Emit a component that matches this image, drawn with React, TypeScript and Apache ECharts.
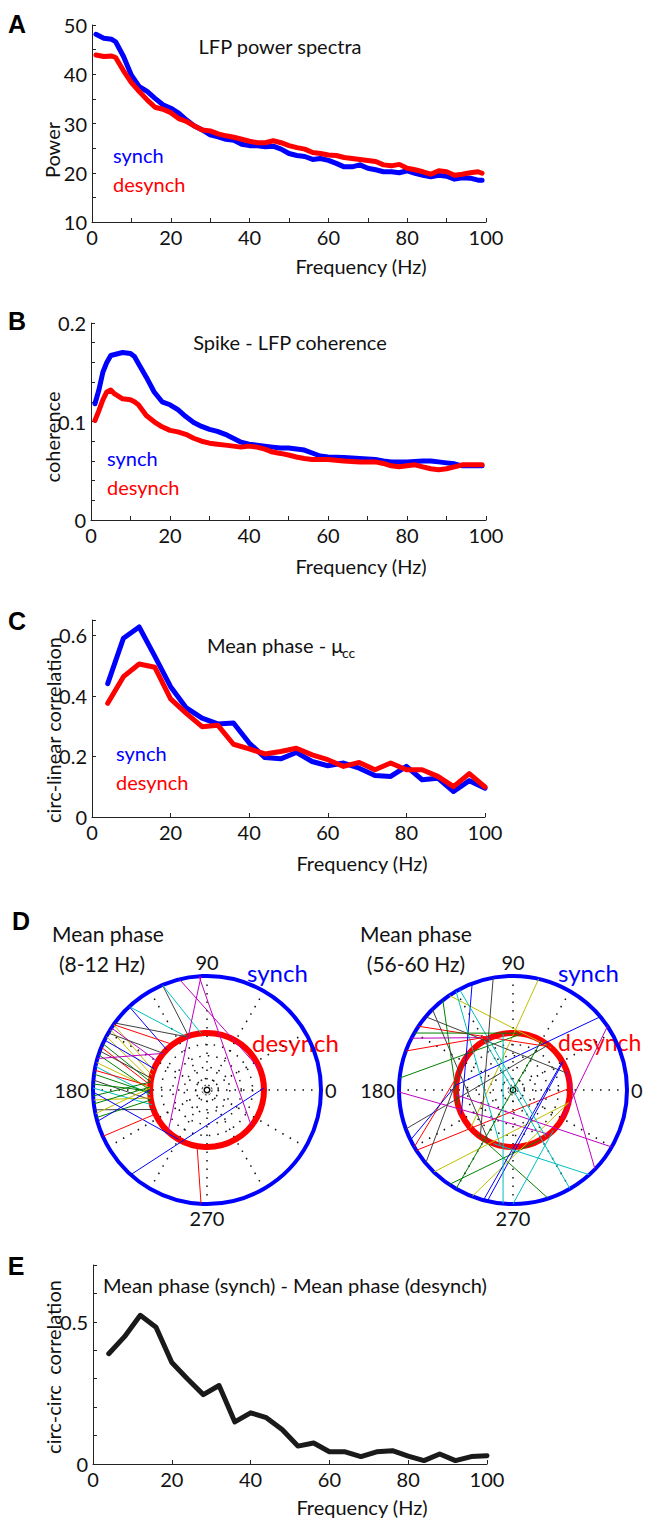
import React, { useEffect, useRef } from 'react';
import * as echarts from 'echarts';

const FONT = 'Lato, "Open Sans", sans-serif';
const LETTER_FONT = '"Liberation Sans", Arial, sans-serif';

// ---- Panel A: LFP power spectra ----
const freqA = [1, 3, 5, 6, 8, 10, 12, 14, 16, 18, 20, 22, 24, 26, 28, 30, 32, 34, 36, 38, 40, 42, 44, 46, 48, 50, 52, 54, 56, 58, 60, 62, 64, 66, 68, 70, 72, 74, 76, 78, 80, 82, 84, 86, 88, 90, 92, 94, 96, 98, 99];
const powerSynch = [48.1, 47.3, 47.1, 46.6, 43.6, 39.8, 37.5, 36.5, 35.1, 33.8, 33.1, 32.1, 30.7, 29.5, 28.7, 27.7, 27.3, 26.8, 26.6, 25.8, 25.5, 25.5, 25.3, 25.4, 24.8, 23.9, 23.5, 23.3, 22.7, 22.9, 22.5, 21.9, 21.2, 21.2, 21.6, 20.9, 20.6, 20.2, 20.2, 20.0, 20.4, 19.9, 19.5, 19.2, 19.5, 19.3, 18.7, 19.0, 18.9, 18.5, 18.5];
const powerDesynch = [43.9, 43.6, 43.7, 43.4, 40.7, 38.3, 36.5, 34.8, 33.3, 32.9, 32.2, 31.0, 30.4, 29.5, 28.7, 28.5, 27.9, 27.5, 27.2, 26.8, 26.4, 26.1, 26.1, 26.5, 26.1, 25.5, 25.1, 24.8, 24.1, 23.9, 23.6, 23.5, 23.1, 22.9, 22.7, 22.5, 22.3, 21.6, 21.4, 21.7, 20.9, 20.6, 20.2, 19.7, 20.4, 20.2, 19.5, 19.7, 20.0, 20.2, 19.9];

// ---- Panel B: spike-LFP coherence ----
const freqB = [1, 2, 3, 4, 5, 6, 8, 10, 11, 12, 14, 16, 18, 20, 22, 24, 26, 28, 30, 32, 34, 36, 38, 40, 42, 44, 46, 48, 50, 52, 54, 56, 58, 60, 64, 68, 72, 74, 76, 78, 80, 82, 84, 86, 88, 90, 92, 94, 96, 99];
const cohSynch = [0.118, 0.132, 0.150, 0.160, 0.167, 0.168, 0.170, 0.169, 0.166, 0.159, 0.145, 0.130, 0.120, 0.117, 0.112, 0.105, 0.099, 0.095, 0.092, 0.090, 0.087, 0.083, 0.079, 0.077, 0.076, 0.075, 0.074, 0.073, 0.073, 0.072, 0.071, 0.068, 0.065, 0.064, 0.0635, 0.0625, 0.0615, 0.060, 0.059, 0.059, 0.059, 0.0595, 0.060, 0.060, 0.059, 0.058, 0.057, 0.055, 0.055, 0.055];
const cohDesynch = [0.101, 0.111, 0.122, 0.130, 0.132, 0.128, 0.123, 0.122, 0.120, 0.117, 0.106, 0.0997, 0.0946, 0.091, 0.0895, 0.087, 0.083, 0.080, 0.078, 0.077, 0.076, 0.075, 0.074, 0.075, 0.074, 0.072, 0.069, 0.0676, 0.066, 0.064, 0.0625, 0.0615, 0.0615, 0.0615, 0.060, 0.059, 0.059, 0.0574, 0.055, 0.054, 0.055, 0.056, 0.054, 0.052, 0.051, 0.052, 0.054, 0.056, 0.056, 0.056];

// ---- Panels C and E: 4 Hz bands ----
const freqBands = [4, 8, 12, 16, 20, 24, 28, 32, 36, 40, 44, 48, 52, 56, 60, 64, 68, 72, 76, 80, 84, 88, 92, 96, 100];
const circLinSynch = [0.44, 0.59, 0.627, 0.53, 0.43, 0.36, 0.326, 0.307, 0.31, 0.244, 0.196, 0.192, 0.213, 0.183, 0.169, 0.178, 0.161, 0.137, 0.134, 0.167, 0.123, 0.128, 0.084, 0.12, 0.095];
const circLinDesynch = [0.375, 0.463, 0.505, 0.494, 0.39, 0.342, 0.298, 0.303, 0.24, 0.225, 0.208, 0.216, 0.227, 0.205, 0.189, 0.167, 0.18, 0.156, 0.178, 0.156, 0.156, 0.134, 0.1, 0.143, 0.099];
const circCirc = [0.388, 0.448, 0.523, 0.481, 0.357, 0.299, 0.244, 0.276, 0.148, 0.18, 0.163, 0.121, 0.063, 0.074, 0.043, 0.043, 0.026, 0.043, 0.047, 0.028, 0.012, 0.035, 0.012, 0.026, 0.029];

// ---- Panel D: per-cell mean phase, [synch (outer ring), desynch (inner ring)] in degrees ----
const phasesAlpha: [number, number][] = [
  [113, 109], [113, 96], [133, 111], [133, 135], [144, 111], [145, 127], [145, 160], [147, 150],
  [148, 165], [150, 140], [152, 170], [154, 158], [156, 172], [158, 175], [160, 168], [162, 180],
  [164, 140], [166, 178], [168, 185], [170, 176], [172, 183], [175, 190], [177, 181], [179, 195],
  [183, 172], [185, 188], [187, 177], [190, 200], [192, 178], [194, 190], [196, 180], [181, 240],
  [204, 205], [228, 2], [267, 260], [104, 21], [94, 321], [93, 227],
];
const colorsAlpha = 'kccbkrymykybgrkgmycrgkgcgygkygbbrbrmmm';

const phasesGamma: [number, number][] = [
  [77, 222], [124, 48], [40, 175], [174, 81], [146, 49], [153, 113], [140, 17], [128, 195],
  [111, 205], [120, 257], [200, 52], [210, 133], [206, 175], [212, 2], [181, 309], [257, 29],
  [288, 231], [226, 347], [236, 298], [249, 347], [330, 185], [34, 330], [316, 20], [255, 30],
  [118, 305], [312, 250], [135, 245], [160, 95], [265, 100], [240, 60], [300, 120], [220, 150],
  [270, 315], [100, 235], [150, 85],
];
const colorsGamma = 'yybgrmkgbckrbrmbgygymmmbcckrcgckckg';

const MATLAB_COLORS: Record<string, string> = {
  b: '#0000ff', g: '#008000', r: '#ff0000', c: '#00bfbf', m: '#bf00bf', y: '#bfbf00', k: '#404040',
};

const BLUE = '#0000ff';
const RED = '#ff0000';
const AXIS = '#222';
const tickLabel = { fontFamily: FONT, fontSize: 20, color: '#111' };

function freqAxis(gridIndex: number, minor: boolean) {
  return {
    type: 'value', gridIndex, min: 0, max: 100, interval: 20,
    axisLine: { show: true, onZero: false, lineStyle: { color: AXIS, width: 1 } },
    axisTick: { show: true, inside: true, length: 4, lineStyle: { color: AXIS } },
    minorTick: { show: minor, splitNumber: 2, length: 4, lineStyle: { color: AXIS } },
    axisLabel: { ...tickLabel, margin: 5 },
    splitLine: { show: false },
  };
}

function valueAxis(gridIndex: number, min: number, max: number, interval: number, minorSplit: number, formatter?: (v: number) => string) {
  return {
    type: 'value', gridIndex, min, max, interval,
    axisLine: { show: true, onZero: false, lineStyle: { color: AXIS, width: 1 } },
    axisTick: { show: true, inside: true, length: 4, lineStyle: { color: AXIS } },
    minorTick: { show: minorSplit > 1, splitNumber: minorSplit, length: 4, lineStyle: { color: AXIS } },
    axisLabel: { ...tickLabel, margin: 5, formatter },
    splitLine: { show: false },
  };
}

function curve(xIdx: number, xs: number[], ys: number[], color: string) {
  return {
    type: 'line', xAxisIndex: xIdx, yAxisIndex: xIdx,
    data: xs.map((x, i) => [x, ys[i]]),
    symbol: 'none', silent: true,
    lineStyle: { color, width: 5, cap: 'round', join: 'round' },
  };
}

function text(t: string, x: number, y: number, o: any = {}) {
  const align = o.align || 'center';
  return {
    type: 'text', x, y, silent: true, rotation: o.rot || 0,
    style: {
      text: t, fill: o.fill || '#111',
      font: `${o.weight || 'normal'} ${o.size || 20}px ${o.family || FONT}`,
      textAlign: align, textVerticalAlign: 'middle', align, verticalAlign: 'middle',
    },
  };
}

// polar setup: outer ring (synch), inner ring (desynch), tiny centre mark
const CENTERS = [207, 513];
const CY = 1090;
const R_OUT = 114;
const R_IN = 57;

function polarAxes() {
  const polar: any[] = [];
  const angleAxis: any[] = [];
  const radiusAxis: any[] = [];
  const hidden = { show: false };
  CENTERS.forEach((cx) => {
    const base = polar.length;
    polar.push({ center: [cx, CY], radius: R_OUT });
    polar.push({ center: [cx, CY], radius: R_IN });
    polar.push({ center: [cx, CY], radius: 5 });
    angleAxis.push({
      polarIndex: base, type: 'value', min: 0, max: 360, interval: 30, startAngle: 0, clockwise: false,
      axisLine: { lineStyle: { color: BLUE, width: 4 } },
      axisTick: hidden,
      axisLabel: {
        ...tickLabel, margin: 4,
        formatter: (v: number) => (v % 90 === 0 && v < 360 ? String(v) : ''),
      },
      splitLine: { show: true, lineStyle: { color: '#111', width: 1.5, type: [1.5, 7] } },
    });
    radiusAxis.push({ polarIndex: base, type: 'value', min: 0, max: 1, axisLine: hidden, axisTick: hidden, axisLabel: hidden, splitLine: hidden });
    angleAxis.push({
      polarIndex: base + 1, type: 'value', min: 0, max: 360, startAngle: 0, clockwise: false,
      axisLine: { lineStyle: { color: RED, width: 6 } },
      axisTick: hidden, axisLabel: hidden, splitLine: hidden,
    });
    radiusAxis.push({
      polarIndex: base + 1, type: 'value', min: 0, max: 1, interval: 0.2,
      axisLine: hidden, axisTick: hidden, axisLabel: hidden,
      splitLine: { show: true, lineStyle: { color: '#111', width: 1.5, type: [1.5, 7] } },
    });
    angleAxis.push({
      polarIndex: base + 2, type: 'value', min: 0, max: 360, startAngle: 0, clockwise: false,
      axisLine: { lineStyle: { color: '#111', width: 1, type: [2, 2] } },
      axisTick: hidden, axisLabel: hidden, splitLine: hidden,
    });
    radiusAxis.push({ polarIndex: base + 2, type: 'value', min: 0, max: 1, axisLine: hidden, axisTick: hidden, axisLabel: hidden, splitLine: hidden });
  });
  return { polar, angleAxis, radiusAxis };
}

function phaseLines(pairs: [number, number][], colors: string, polarIndex: number) {
  return pairs.map(([synch, desynch], i) => ({
    type: 'line', coordinateSystem: 'polar', polarIndex,
    data: [[1, synch], [0.5, desynch]],
    symbol: 'none', silent: true, z: 3,
    lineStyle: { color: MATLAB_COLORS[colors[i]] || '#404040', width: 1 },
  }));
}

function buildOption() {
  const { polar, angleAxis, radiusAxis } = polarAxes();
  const grid = [
    { left: 92, top: 25, width: 394, height: 197 },
    { left: 91, top: 323, width: 395, height: 197 },
    { left: 92, top: 620, width: 393, height: 197 },
    { left: 93, top: 1265, width: 394, height: 199 },
  ];
  const xAxis = [freqAxis(0, true), freqAxis(1, true), freqAxis(2, false), freqAxis(3, false)];
  const yAxis = [
    valueAxis(0, 10, 50, 10, 2),
    valueAxis(1, 0, 0.2, 0.1, 5),
    valueAxis(2, 0, 0.65, 0.2, 0, (v) => (Math.abs(v * 5 - Math.round(v * 5)) < 1e-6 ? String(+v.toFixed(1)) : '')),
    valueAxis(3, 0, 0.7, 0.1, 0, (v) => (Math.abs(v) < 1e-9 ? '0' : Math.abs(v - 0.5) < 1e-9 ? '0.5' : '')),
  ];

  const series: any[] = [
    curve(0, freqA, powerSynch, BLUE),
    curve(0, freqA, powerDesynch, RED),
    curve(1, freqB, cohSynch, BLUE),
    curve(1, freqB, cohDesynch, RED),
    curve(2, freqBands, circLinSynch, BLUE),
    curve(2, freqBands, circLinDesynch, RED),
    curve(3, freqBands, circCirc, '#1a1a1a'),
    ...phaseLines(phasesAlpha, colorsAlpha, 0),
    ...phaseLines(phasesGamma, colorsGamma, 3),
  ];

  const rot = Math.PI / 2;
  const graphic = [
    // panel letters
    text('A', 17, 24, { size: 25, weight: 'bold', family: LETTER_FONT, fill: '#000' }),
    text('B', 17, 321, { size: 25, weight: 'bold', family: LETTER_FONT, fill: '#000' }),
    text('C', 17, 621, { size: 25, weight: 'bold', family: LETTER_FONT, fill: '#000' }),
    text('D', 21, 921, { size: 25, weight: 'bold', family: LETTER_FONT, fill: '#000' }),
    text('E', 16, 1266, { size: 25, weight: 'bold', family: LETTER_FONT, fill: '#000' }),
    // titles
    text('LFP power spectra', 280, 46, { size: 20 }),
    text('Spike - LFP coherence', 290, 342, { size: 20 }),
    text('Mean phase - μ', 207, 645, { size: 20, align: 'left' }),
    text('cc', 342, 652, { size: 14, align: 'left' }),
    text('Mean phase (synch) - Mean phase (desynch)', 295, 1285, { size: 20 }),
    // x axis names
    text('Frequency (Hz)', 361, 266, { size: 20 }),
    text('Frequency (Hz)', 361, 566, { size: 20 }),
    text('Frequency (Hz)', 362, 863, { size: 20 }),
    text('Frequency (Hz)', 362, 1507, { size: 20 }),
    // y axis names
    text('Power', 52, 150, { size: 20, rot }),
    text('coherence', 52, 437, { size: 20, rot }),
    text('circ-linear correlation', 53, 730, { size: 20, rot }),
    text('circ-circ  correlation', 53, 1367, { size: 20, rot }),
    // in-plot legends
    text('synch', 113, 155, { size: 20, align: 'left', fill: BLUE }),
    text('desynch', 113, 184, { size: 20, align: 'left', fill: RED }),
    text('synch', 107, 458, { size: 20, align: 'left', fill: BLUE }),
    text('desynch', 107, 487, { size: 20, align: 'left', fill: RED }),
    text('synch', 116, 753, { size: 20, align: 'left', fill: BLUE }),
    text('desynch', 116, 782, { size: 20, align: 'left', fill: RED }),
    // panel D headings
    text('Mean phase', 108, 933, { size: 21 }),
    text('(8-12 Hz)', 102, 963, { size: 21 }),
    text('Mean phase', 416, 933, { size: 21 }),
    text('(56-60 Hz)', 416, 963, { size: 21 }),
    text('synch', 247, 972, { size: 24, align: 'left', fill: BLUE }),
    text('desynch', 252, 1042, { size: 24, align: 'left', fill: RED }),
    text('synch', 558, 972, { size: 24, align: 'left', fill: BLUE }),
    text('desynch', 558, 1042, { size: 23, align: 'left', fill: RED }),
  ];

  return {
    animation: false,
    backgroundColor: '#ffffff',
    grid, xAxis, yAxis, polar, angleAxis, radiusAxis, series, graphic,
  };
}

export default function App() {
  const ref = useRef<HTMLDivElement>(null);
  useEffect(() => {
    if (!ref.current) return;
    const chart = echarts.init(ref.current, undefined, { renderer: 'svg' });
    chart.setOption(buildOption() as any);
    return () => chart.dispose();
  }, []);
  return (
    <div
      ref={ref}
      style={{ position: 'absolute', left: 0, top: 0, width: 648, height: 1520, background: '#fff' }}
    />
  );
}
